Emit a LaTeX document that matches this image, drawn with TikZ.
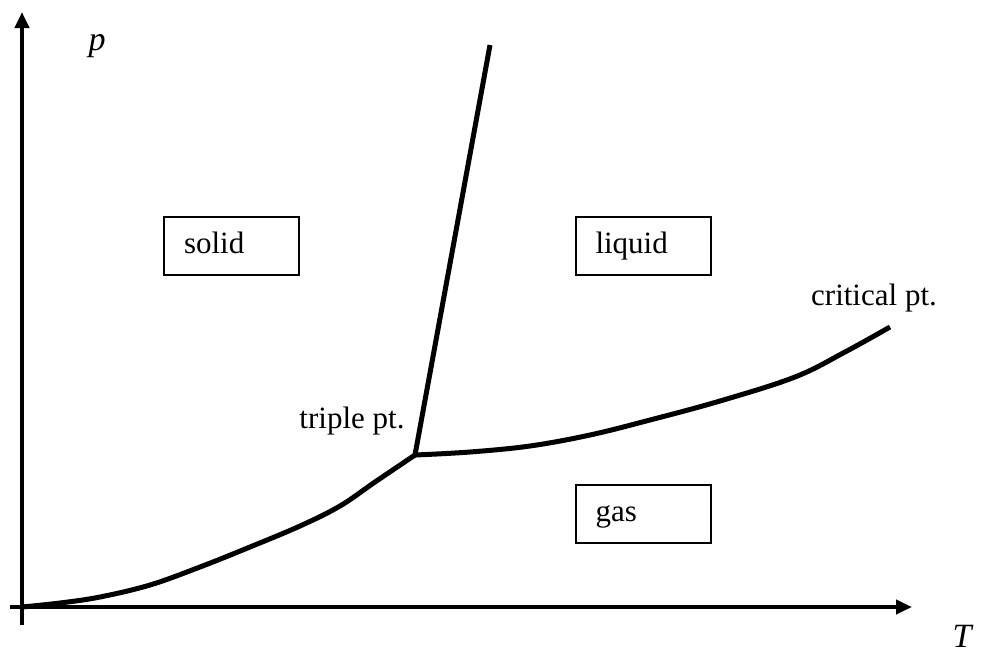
\documentclass[tikz,border=0pt]{standalone}
\usepackage{fontspec}
\setmainfont{Liberation Serif}
\newfontfamily\tnr{Liberation Serif}
\usetikzlibrary{arrows.meta}
\begin{document}
\begin{tikzpicture}[x=0.5pt,y=-0.5pt,
  axis/.style={line width=2pt,-{Triangle[length=8pt,width=7pt]}},
  curve/.style={line width=2.5pt,line join=round},
  phase/.style={draw,line width=1pt,minimum width=67.5pt,minimum height=29pt,text width=47.5pt,inner xsep=10pt,align=left,text height=10.5pt,text depth=3pt,font=\tnr\fontsize{15.5}{18}\selectfont},
  lbl/.style={font=\tnr\fontsize{15.5}{18}\selectfont,inner sep=0pt}]
\useasboundingbox (0,0) rectangle (981,654);
\coordinate (ybot) at (22,625);
\coordinate (ytop) at (22,12);
\coordinate (xl) at (10,607);
\coordinate (xr) at (912,607);
\draw[axis] (ybot) -- (ytop);
\draw[axis] (xl) -- (xr);
\node[lbl,font=\tnr\itshape\fontsize{17}{20}\selectfont] (p) at (97,46) {p};
\node[lbl,font=\tnr\itshape\fontsize{17}{20}\selectfont] (T) at (962,636) {T};
\coordinate (origin) at (22,607);
\coordinate (triple) at (415,455);
\coordinate (melt) at (490,45);
\coordinate (crit) at (890,327);
\draw[curve] plot[smooth,tension=0.6] coordinates {(origin) (60,603) (100,597) (150,585) (200,567) (250,547) (300,526) (340,506) (375,482) (triple)};
\draw[curve] (triple) -- (melt);
\draw[curve] plot[smooth,tension=0.6] coordinates {(triple) (470,452) (530,446) (590,435) (650,420) (720,401) (795,377) (845,352) (crit)};
\node[phase] (solid) at (231.5,246) {solid};
\node[phase] (liquid) at (643,246) {liquid};
\node[phase] (gas) at (643,514) {gas};
\node[lbl] (tp) at (352,421) {triple pt.};
\node[lbl] (cp) at (874,298) {critical pt.};
\end{tikzpicture}
\end{document}
